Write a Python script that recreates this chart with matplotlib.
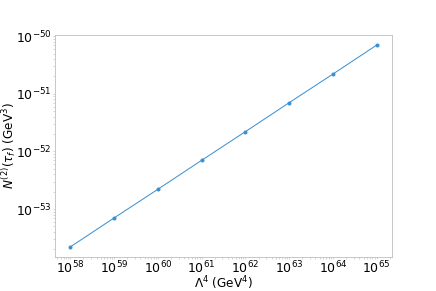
import numpy as np
import matplotlib
matplotlib.use("Agg")
from matplotlib import pyplot as plt

# Lambda^4 (GeV^4) and N^(2)(tau_f) (GeV^3)
lambda4 = [1e58, 1e59, 1e60, 1e61, 1e62, 1e63, 1e64, 1e65]
n2_tau = [2.2e-54, 7.0e-54, 2.2e-53, 7.0e-53, 2.2e-52, 7.0e-52, 2.2e-51, 7.0e-51]

plt.rcParams["font.size"] = 12

W, H = 436, 291
L, R, T, B = 55, 392, 35, 257
fig = plt.figure(figsize=(W / 72, H / 72), dpi=72)
ax = fig.add_axes([L / W, 1 - B / H, (R - L) / W, (B - T) / H])

ax.plot(lambda4, n2_tau, marker="o", markersize=3, lw=1, color="#3a8fd0")
ax.set_xscale("log")
ax.set_yscale("log")
ax.set_xlabel(r"$\Lambda^4$ (GeV$^4$)")
ax.set_ylabel(r"$N^{(2)}(\tau_f)$ (GeV$^3$)")
# pin the axis labels where the reference has them
ax.xaxis.set_label_coords(0.5, (B - 274) / (B - T))
ax.yaxis.set_label_coords((18 - L) / (R - L), 0.5)

for side in ax.spines.values():
    side.set_color("#bbbbbb")
ax.tick_params(which="both", colors="#bbbbbb", labelcolor="black", length=2, width=0.6)
ax.tick_params(which="major", labelsize=12.5, pad=1)

fig.savefig("out.png", dpi=72)
